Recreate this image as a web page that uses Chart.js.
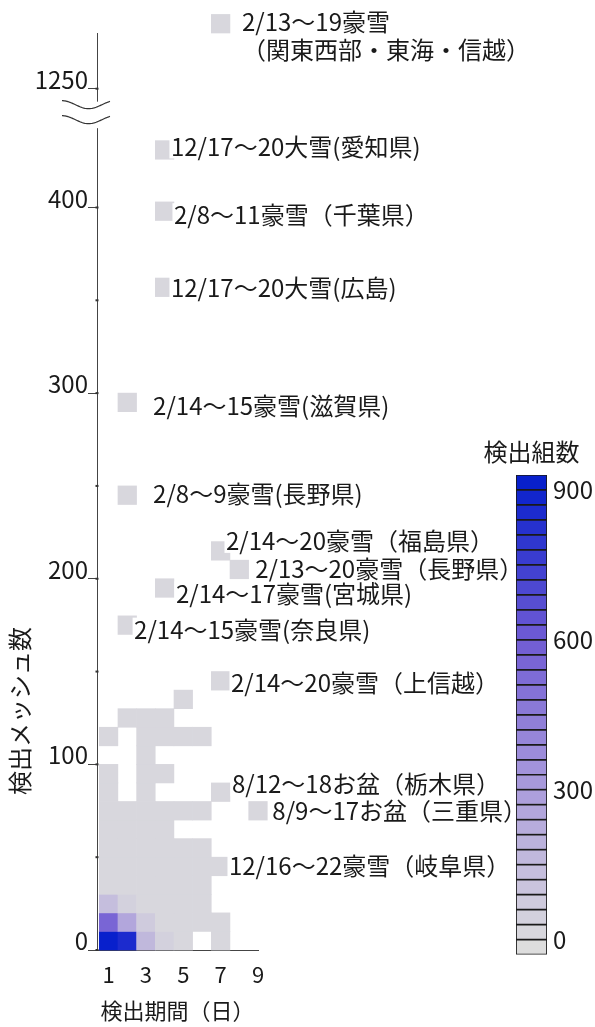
<!DOCTYPE html>
<html lang="ja">
<head>
<meta charset="utf-8">
<title>検出期間と検出メッシュ数</title>
<script src="https://cdn.jsdelivr.net/npm/chart.js@4.4.1/dist/chart.umd.min.js"></script>
<style>
  html, body { margin: 0; padding: 0; background: #fff; }
  #wrap { position: relative; width: 595px; height: 1027px; }
  #main { position: absolute; left: 0; top: 0; }
  #scale { position: absolute; left: 470px; top: 430px; }
</style>
</head>
<body>
<div id="wrap">
  <canvas id="main" width="595" height="1027"></canvas>
  <canvas id="scale" width="125" height="545"></canvas>
</div>
<script>
// one heatmap cell per entry: detection period (days), mesh-count bin (lower edge, width 10), number of groups
const cellDays = [
  1, 2, 3, 4, 5, 7,
  1, 2, 3, 4, 5, 6, 7,
  1, 2, 3, 4, 5, 6,
  1, 2, 3, 4, 5, 6,
  1, 2, 3, 4, 5, 6, 7,
  1, 2, 3, 4, 5, 6,
  1, 2, 3, 4,
  1, 2, 3, 4, 5, 6, 9,
  1, 3, 7,
  1, 3, 4,
  3,
  1, 3, 4, 5, 6,
  2, 3, 4,
  5,
  7,
  2, 4, 8, 7, 2, 2, 4, 4, 4, 7
];
const cellMesh = [
  0, 0, 0, 0, 0, 0,
  10, 10, 10, 10, 10, 10, 10,
  20, 20, 20, 20, 20, 20,
  30, 30, 30, 30, 30, 30,
  40, 40, 40, 40, 40, 40, 40,
  50, 50, 50, 50, 50, 50,
  60, 60, 60, 60,
  70, 70, 70, 70, 70, 70, 70,
  80, 80, 80,
  90, 90, 90,
  100,
  110, 110, 110, 110, 110,
  120, 120, 120,
  130,
  140,
  170, 190, 200, 210, 240, 290, 352, 393, 426, 1280
];
const cellCounts = [
  1200, 860, 160, 50, 15, 6,
  560, 250, 70, 20, 10, 4, 2,
  130, 40, 22, 12, 6, 3,
  26, 18, 11, 7, 4, 2,
  17, 12, 8, 5, 3, 2, 1,
  12, 8, 6, 4, 2, 1,
  8, 6, 4, 2,
  6, 4, 3, 2, 1, 1, 1,
  4, 3, 1,
  3, 2, 1,
  2,
  1, 2, 1, 1, 1,
  1, 1, 1,
  1,
  1,
  1, 1, 1, 1, 1, 1, 1, 1, 1, 1
];

// named events
const eventLabels = [
  ['2/13～19豪雪', '（関東西部・東海・信越）'],
  '12/17～20大雪(愛知県)',
  '2/8～11豪雪（千葉県）',
  '12/17～20大雪(広島)',
  '2/14～15豪雪(滋賀県)',
  '2/8～9豪雪(長野県)',
  '2/14～20豪雪（福島県）',
  '2/13～20豪雪（長野県）',
  '2/14～17豪雪(宮城県)',
  '2/14～15豪雪(奈良県)',
  '2/14～20豪雪（上信越）',
  '8/12～18お盆（栃木県）',
  '8/9～17お盆（三重県）',
  '12/16～22豪雪（岐阜県）'
];
const eventDays = [7, 4, 4, 4, 2, 2, 7, 8, 4, 2, 7, 7, 9, 7];
const eventMesh = [1280, 426, 393, 352, 290, 240, 210, 200, 190, 170, 140, 80, 70, 40];

// axis ticks
const dayTicks = [1, 3, 5, 7, 9];
const meshTicks = [0, 50, 100, 150, 200, 250, 300, 350, 400];
const meshLabelled = [0, 100, 200, 300, 400];
const upperTicks = [1250];

// colour scale: bins of 30 groups, from -30 up to 930
const scaleMin = -30;
const scaleStep = 30;
const binCount = 32;
const scaleTicks = [0, 300, 600, 900];

// label placement: [dx from right edge of the cell, dy from cell centre]
const labelShift = [
  [12, -2], [-3, -3.5], [0, 4], [-3, 1], [16.5, 3], [16.5, -1.5], [-4, -10],
  [6.5, -0.5], [2, 5.5], [-2.5, 4.5], [1, 2], [2, -8], [5, 0], [-1, -0.5]
];

const FONT = '"Noto Sans CJK JP", "Noto Sans", sans-serif';
const INK = '#1a1a1a';
const AXIS = '#444';
Chart.defaults.font.family = FONT;
Chart.defaults.color = INK;

const upperMin = 1229;

// grey -> lavender -> blue ramp
const rampStops = [
  [0, [221, 221, 221]],
  [0.33, [172, 158, 220]],
  [0.66, [112, 92, 212]],
  [1, [8, 32, 204]]
];
function rampColor(t) {
  for (let k = 1; k < rampStops.length; k++) {
    const [t1, c1] = rampStops[k];
    const [t0, c0] = rampStops[k - 1];
    if (t <= t1) {
      const f = (t - t0) / (t1 - t0);
      const c = c0.map((v, j) => Math.round(v + (c1[j] - v) * f));
      return `rgb(${c[0]}, ${c[1]}, ${c[2]})`;
    }
  }
  return 'rgb(8, 32, 204)';
}
const binColors = [];
for (let i = 0; i < binCount; i++) binColors.push(rampColor(i / (binCount - 1)));

function countColor(n) {
  const i = Math.floor((n - scaleMin) / scaleStep);
  return binColors[Math.min(binCount - 1, Math.max(0, i))];
}

const lowerCells = [];
const upperCells = [];
cellDays.forEach((d, i) => {
  const pt = { x: d, y: cellMesh[i] + 5, n: cellCounts[i] };
  (cellMesh[i] >= upperMin ? upperCells : lowerCells).push(pt);
});

// square side = one day on the x scale (a little extra to hide seams)
function cellRadius(ctx) {
  const x = ctx.chart.scales.x;
  const w = Math.abs(x.getPixelForValue(1) - x.getPixelForValue(0));
  return (w / 2) / Math.SQRT1_2 + 0.4;
}
function cellFill(ctx) {
  return ctx.raw ? countColor(ctx.raw.n) : binColors[1];
}

const cellStyle = {
  pointStyle: 'rect',
  pointRadius: cellRadius,
  pointHoverRadius: cellRadius,
  pointBackgroundColor: cellFill,
  pointBorderWidth: 0,
  showLine: false,
  clip: false
};

const yTickColor = ctx => meshLabelled.includes(ctx.tick.value) || upperTicks.includes(ctx.tick.value) ? AXIS : 'rgba(0,0,0,0)';

const decorations = {
  id: 'decorations',
  afterDraw(chart) {
    const ctx = chart.ctx;
    const { x, y, yTop } = chart.scales;
    const axisX = y.right;
    ctx.save();

    // dots where the ticks meet the axis
    ctx.fillStyle = '#333';
    y.ticks.forEach(t => ctx.fillRect(axisX - 1.5, y.getPixelForValue(t.value) - 1, 3, 2));
    yTop.ticks.forEach(t => ctx.fillRect(axisX - 1.5, yTop.getPixelForValue(t.value) - 1, 3, 2));

    // axis break between the two ranges
    const brk = yTop.bottom;
    ctx.fillStyle = '#fff';
    ctx.fillRect(axisX - 4, brk - 26, 8, 26.5);
    ctx.strokeStyle = '#333';
    ctx.lineWidth = 1.2;
    [brk - 23, brk - 8].forEach(cy => {
      ctx.beginPath();
      for (let px = 0; px <= 48; px++) {
        const yy = cy - 4 * Math.cos(2 * Math.PI * px / 48 * 0.9);
        if (px === 0) ctx.moveTo(axisX - 35 + px, yy);
        else ctx.lineTo(axisX - 35 + px, yy);
      }
      ctx.stroke();
    });

    // event labels next to their cells
    ctx.font = '24px ' + FONT;
    ctx.textBaseline = 'middle';
    ctx.textAlign = 'left';
    eventLabels.forEach((txt, i) => {
      const sc = eventMesh[i] >= upperMin ? yTop : y;
      const right = x.getPixelForValue(eventDays[i] + 0.5);
      const cy = sc.getPixelForValue(eventMesh[i] + 5);
      const lines = Array.isArray(txt) ? txt : [txt];
      const tx = right + labelShift[i][0];
      const ty = cy + labelShift[i][1];
      lines.forEach((ln, k) => {
        const ly = ty + k * 28;
        const w = ctx.measureText(ln).width;
        ctx.fillStyle = '#fff';
        ctx.fillRect(tx - 1.5, ly - 12, w + 3, 24);
        ctx.fillStyle = INK;
        ctx.fillText(ln, tx, ly);
      });
    });

    // vertical axis title
    ctx.translate(20, 711);
    ctx.rotate(-Math.PI / 2);
    ctx.textAlign = 'center';
    ctx.fillStyle = INK;
    ctx.fillText('検出メッシュ数', 0, 0);
    ctx.restore();
  }
};

new Chart(document.getElementById('main'), {
  type: 'scatter',
  data: {
    datasets: [
      Object.assign({ data: upperCells, yAxisID: 'yTop' }, cellStyle),
      Object.assign({ data: lowerCells, yAxisID: 'y' }, cellStyle)
    ]
  },
  options: {
    responsive: false,
    animation: false,
    events: [],
    layout: { padding: { left: 0, top: 33, right: 337, bottom: 0 } },
    plugins: { legend: { display: false }, tooltip: { enabled: false } },
    scales: {
      x: {
        type: 'linear',
        min: 0.38,
        max: 9,
        afterBuildTicks: s => { s.ticks = dayTicks.map(v => ({ value: v })); },
        afterFit: s => { s.height = 77; },
        grid: { display: false, drawTicks: false },
        border: { color: AXIS, width: 1 },
        ticks: { font: { size: 22 }, padding: 11, color: INK, callback: v => String(v) },
        title: { display: true, text: '検出期間（日）', font: { size: 22 }, color: INK, padding: { top: 0, bottom: 3 } }
      },
      // left boxes are stacked in reverse order, so the lower range comes first
      y: {
        type: 'linear',
        position: 'left',
        stack: 'mesh',
        stackWeight: 443,
        min: 0,
        max: 443,
        afterBuildTicks: s => { s.ticks = meshTicks.map(v => ({ value: v })); },
        afterFit: s => { s.width = 97; },
        grid: { drawOnChartArea: false, drawTicks: true, tickLength: 9, tickColor: yTickColor },
        border: { color: AXIS, width: 1 },
        ticks: {
          font: { size: 24 }, padding: 0, labelOffset: -9, color: INK,
          callback: v => meshLabelled.includes(v) ? String(v) : ''
        }
      },
      yTop: {
        type: 'linear',
        position: 'left',
        stack: 'mesh',
        stackWeight: 51,
        min: upperMin,
        max: 1280,
        afterBuildTicks: s => { s.ticks = upperTicks.map(v => ({ value: v })); },
        afterFit: s => { s.width = 97; },
        grid: { drawOnChartArea: false, drawTicks: true, tickLength: 9, tickColor: yTickColor },
        border: { color: AXIS, width: 1 },
        ticks: { font: { size: 24 }, padding: 0, labelOffset: -9, color: INK, callback: v => String(v) }
      }
    }
  },
  plugins: [decorations]
});

// colour bar
const scaleTitle = {
  id: 'scaleTitle',
  afterDraw(chart) {
    const ctx = chart.ctx;
    const area = chart.chartArea;
    ctx.save();
    ctx.font = '24px ' + FONT;
    ctx.fillStyle = INK;
    ctx.textAlign = 'center';
    ctx.textBaseline = 'middle';
    ctx.fillText('検出組数', (area.left + area.right) / 2, area.top - 23);
    ctx.restore();
  }
};

const barDatasets = binColors.map((c, i) => ({
  data: [[scaleMin + i * scaleStep, scaleMin + (i + 1) * scaleStep]],
  backgroundColor: c,
  borderColor: '#1a1a1a',
  borderWidth: 1.2,
  borderSkipped: false,
  barPercentage: 1,
  categoryPercentage: 1
}));

new Chart(document.getElementById('scale'), {
  type: 'bar',
  data: { labels: [''], datasets: barDatasets },
  options: {
    responsive: false,
    animation: false,
    events: [],
    layout: { padding: { left: 46, top: 45, right: 0, bottom: 13 } },
    plugins: { legend: { display: false }, tooltip: { enabled: false } },
    scales: {
      x: { display: false, stacked: true },
      y: {
        position: 'right',
        stacked: false,
        min: scaleMin,
        max: scaleMin + binCount * scaleStep,
        afterBuildTicks: s => { s.ticks = scaleTicks.map(v => ({ value: v })); },
        afterFit: s => { s.width = 48; },
        grid: { display: false, drawTicks: false },
        border: { display: false },
        ticks: { font: { size: 24 }, padding: 6, color: INK, callback: v => String(v) }
      }
    }
  },
  plugins: [scaleTitle]
});
</script>
</body>
</html>
